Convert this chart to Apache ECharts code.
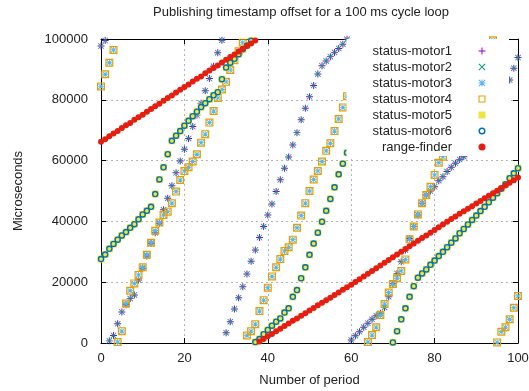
<!DOCTYPE html>
<html>
<head>
<meta charset="utf-8">
<title>Publishing timestamp offset</title>
<script src="https://cdn.jsdelivr.net/npm/echarts@6/dist/echarts.min.js"></script>
<style>
  html, body { margin: 0; padding: 0; background: #fff; }
  #chart { width: 529px; height: 391px; }
</style>
</head>
<body>
<div id="chart"></div>
<script>
// period index (x axis)
const periods = [
  0, 1, 2, 3, 4, 5, 6, 7, 8, 9,
  10, 11, 12, 13, 14, 15, 16, 17, 18, 19,
  20, 21, 22, 23, 24, 25, 26, 27, 28, 29,
  30, 31, 32, 33, 34, 35, 36, 37, 38, 39,
  40, 41, 42, 43, 44, 45, 46, 47, 48, 49,
  50, 51, 52, 53, 54, 55, 56, 57, 58, 59,
  60, 61, 62, 63, 64, 65, 66, 67, 68, 69,
  70, 71, 72, 73, 74, 75, 76, 77, 78, 79,
  80, 81, 82, 83, 84, 85, 86, 87, 88, 89,
  90, 91, 92, 93, 94, 95, 96, 97, 98, 99,
  100
];

// motor1 / motor2 publish together (same offsets)
const motorPairA = [
  97700, 99500, 700, 2500, 6300, 10200, 12600, 14600, 15800, 20700,
  24600, 28600, 32800, 36300, 39400, 43800, 47600, 51700, 56000, 59900,
  63700, 67300, 71200, 75000, 78900, 83000, 87000, 91000, 95500, 99600,
  3400, 7000, 11200, 14900, 18500, 22700, 26900, 30600, 34700, 38300,
  42100, 45700, 49800, 53700, 57500, 61200, 65100, 69200, 73400, 77200,
  81000, 84700, 88500, 91200, 92800, 94200, 95600, 96900, 98300, 99900,
  1000, 2400, 3700, 5200, 6500, 7800, 9000, 9800, 11700, 15200,
  19600, 22900, 26700, 30600, 34400, 38300, 42100, 46000, 48700, 50000,
  51400, 53400, 54700, 56400, 57800, 59100, 60400, 61300, 63000, 65300,
  67600, 69900, 72200, 74500, 76800, 79100, 81400, 83900, 86500, 90400,
  93900
];

// motor3 / motor4
const motorPairB = [
  84400, 88400, 92200, 96400, 300, 3900, 13000, 17200, 19600, 22400,
  24900, 29000, 33000, 36900, 39600, 42100, 43200, 46000, 49800, 53600,
  56600, 57800, 59700, 62100, 65900, 68700, 72500, 76300, 80600, 83400,
  85900, 89800, 93000, 96000, 98800, 2500, 3900, 6200, 10500, 14100,
  18200, 21900, 24900, 27600, 30300, 31500, 34000, 37900, 41900, 46000,
  50000, 53800, 56600, 59700, 63200, 65700, 69700, 73700, 77500, 81200,
  85000, 88800, 92600, 96400, 300, 2600, 5200, 9200, 12800, 16600,
  19400, 21300, 23700, 27500, 34100, 38300, 42300, 46000, 48700, 51400,
  55300, 59300, 61300, 64500, 67700, 70900, 74100, 77300, 80500, 83700,
  86900, 90100, 93300, 96500, 99600, 200, 3700, 5200, 7800, 11600,
  15500
];

// motor5 / motor6
const motorPairC = [
  27600, 29100, 31000, 32600, 34000, 35400, 36500, 37900, 39100, 40700,
  42300, 43500, 44800, 49000, 53800, 57800, 62100, 66500, 68200, 69700,
  71500, 73100, 74600, 76100, 77600, 78900, 80200, 81500, 82500, 86800,
  90600, 92200, 93500, 95000, 96600, 97900, 99400, 300, 1300, 2900,
  4300, 5700, 7000, 8100, 10000, 11400, 15200, 17400, 21300, 24900,
  29000, 32700, 36300, 39900, 43500, 47400, 51200, 55500, 59000, 62600,
  66100, 69700, 73200, 76800, 80300, 83900, 87400, 91000, 94500, 98000,
  200, 3900, 7800, 11400, 15200, 18700, 21500, 22900, 24200, 25700,
  27100, 28600, 30000, 31500, 33000, 34400, 36100, 37500, 39000, 40500,
  41900, 43400, 44800, 46300, 47800, 49300, 50700, 52200, 54200, 55800,
  57500
];

const rangeFinder = [
  66200, 67000, 68000, 68900, 69700, 70700, 71600, 72400, 73400, 74300,
  75100, 76100, 77000, 77900, 78700, 79700, 80600, 81400, 82400, 83300,
  84200, 85000, 86000, 86900, 87700, 88700, 89600, 90500, 91300, 92300,
  93200, 94100, 94900, 95900, 96800, 97700, 98500, 99500, 500, 1350,
  2200, 3000, 3900, 4700, 5600, 6400, 7300, 8100, 9000, 9800,
  10700, 11500, 12400, 13200, 14100, 14900, 15800, 16600, 17500, 18300,
  19200, 20100, 21000, 21900, 22800, 23700, 24600, 25500, 26400, 27300,
  28200, 29100, 30000, 30900, 31800, 32700, 33600, 34500, 35400, 36300,
  37200, 38100, 39000, 39900, 40800, 41600, 42500, 43300, 44200, 45000,
  45900, 46700, 47600, 48400, 49300, 50100, 51000, 51800, 52700, 53500,
  54400
];

const seriesNames = ['status-motor1', 'status-motor2', 'status-motor3',
  'status-motor4', 'status-motor5', 'status-motor6', 'range-finder'];
const xTicks = [0, 20, 40, 60, 80, 100];
const yTicks = [0, 20000, 40000, 60000, 80000, 100000];

// gnuplot-like point shapes
const SYM_PLUS = 'path://M4.3,0H5.7V4.3H10V5.7H5.7V10H4.3V5.7H0V4.3H4.3Z';
const SYM_CROSS = 'path://M0,1L1,0L10,9L9,10Z M9,0L10,1L1,10L0,9Z';
const SYM_STAR = 'path://M4.3,0H5.7V4.3H10V5.7H5.7V10H4.3V5.7H0V4.3H4.3Z M0,1L1,0L10,9L9,10Z M9,0L10,1L1,10L0,9Z';
const SYM_BOX = 'path://M0,0H10V10H0Z M1.5,1.5V8.5H8.5V1.5Z';
const SYM_SQUARE = 'path://M0,0H10V10H0Z';
const SYM_RING = 'path://M5,0A5,5,0,1,1,5,10A5,5,0,1,1,5,0Z M5,2.1A2.9,2.9,0,1,0,5,7.9A2.9,2.9,0,1,0,5,2.1Z';

const FONT = '"Liberation Sans", Arial, sans-serif';
const TEXT = '#222';

function toPoints(values) {
  return periods.map((p, i) => [p, values[i]]);
}

function scatter(name, color, symbol, size, values) {
  return {
    name: name,
    type: 'scatter',
    symbol: symbol,
    symbolSize: size,
    clip: false,
    silent: true,
    itemStyle: { color: color, opacity: 1 },
    data: toPoints(values),
  };
}

const chart = echarts.init(document.getElementById('chart'));

const axisLine = { show: true, onZero: false, lineStyle: { color: '#000', width: 1 } };
const axisTick = { show: true, inside: true, length: 5, lineStyle: { color: '#000', width: 1 } };
const gridLine = { show: true, lineStyle: { color: '#b4b4b4', width: 1, type: [2, 3] } };
const plainNumber = (v) => String(v);

const option = {
  animation: false,
  backgroundColor: '#fff',
  title: {
    text: 'Publishing timestamp offset for a 100 ms cycle loop',
    left: 153,
    top: 6,
    padding: 0,
    textStyle: { fontFamily: FONT, fontSize: 13, fontWeight: 'normal', color: TEXT },
  },
  grid: { left: 101, right: 11, top: 39, bottom: 48, outerBoundsMode: 'none' },
  legend: {
    orient: 'vertical',
    right: 20,
    top: 39,
    align: 'right',
    itemWidth: 50,
    itemHeight: 7,
    itemGap: 0,
    // icon sits in the middle of a 50px slot, leaving room like gnuplot's key
    padding: [4, 23.5, 1, 26],
    backgroundColor: '#fff',
    z: 10,
    selectedMode: false,
    textStyle: { fontFamily: FONT, fontSize: 13, color: TEXT, lineHeight: 16 },
    data: seriesNames,
  },
  xAxis: [
    {
      type: 'value', position: 'bottom', min: xTicks[0], max: xTicks[xTicks.length - 1], interval: 20,
      name: 'Number of period', nameLocation: 'middle', nameGap: 31,
      nameTextStyle: { fontFamily: FONT, fontSize: 13, color: TEXT },
      axisLine: axisLine, axisTick: axisTick, splitLine: gridLine,
      axisLabel: { fontFamily: FONT, fontSize: 13, color: TEXT, margin: 9, formatter: plainNumber },
    },
    {
      type: 'value', position: 'top', min: xTicks[0], max: xTicks[xTicks.length - 1], interval: 20,
      axisLine: axisLine, axisTick: axisTick, splitLine: { show: false }, axisLabel: { show: false },
    },
  ],
  yAxis: [
    {
      type: 'value', position: 'left', min: yTicks[0], max: yTicks[yTicks.length - 1], interval: 20000,
      name: 'Microseconds', nameLocation: 'middle', nameGap: 76, nameRotate: 90,
      nameTextStyle: { fontFamily: FONT, fontSize: 13, color: TEXT },
      axisLine: axisLine, axisTick: axisTick, splitLine: gridLine,
      axisLabel: { fontFamily: FONT, fontSize: 13, color: TEXT, margin: 13, formatter: plainNumber },
    },
    {
      type: 'value', position: 'right', min: yTicks[0], max: yTicks[yTicks.length - 1], interval: 20000,
      axisLine: axisLine, axisTick: axisTick, splitLine: { show: false }, axisLabel: { show: false },
    },
  ],
  series: [
    scatter(seriesNames[0], '#9400d3', SYM_PLUS, 7, motorPairA),
    scatter(seriesNames[1], '#009e73', SYM_CROSS, 6, motorPairA),
    scatter(seriesNames[2], '#56b4e9', SYM_STAR, 6, motorPairB),
    scatter(seriesNames[3], '#e69f00', SYM_BOX, 8, motorPairB),
    scatter(seriesNames[4], '#f0e442', SYM_SQUARE, 7, motorPairC),
    scatter(seriesNames[5], '#0072b2', SYM_RING, 6.5, motorPairC),
    scatter(seriesNames[6], '#e51e10', 'circle', 6, rangeFinder),
  ],
};

chart.setOption(option);
</script>
</body>
</html>
